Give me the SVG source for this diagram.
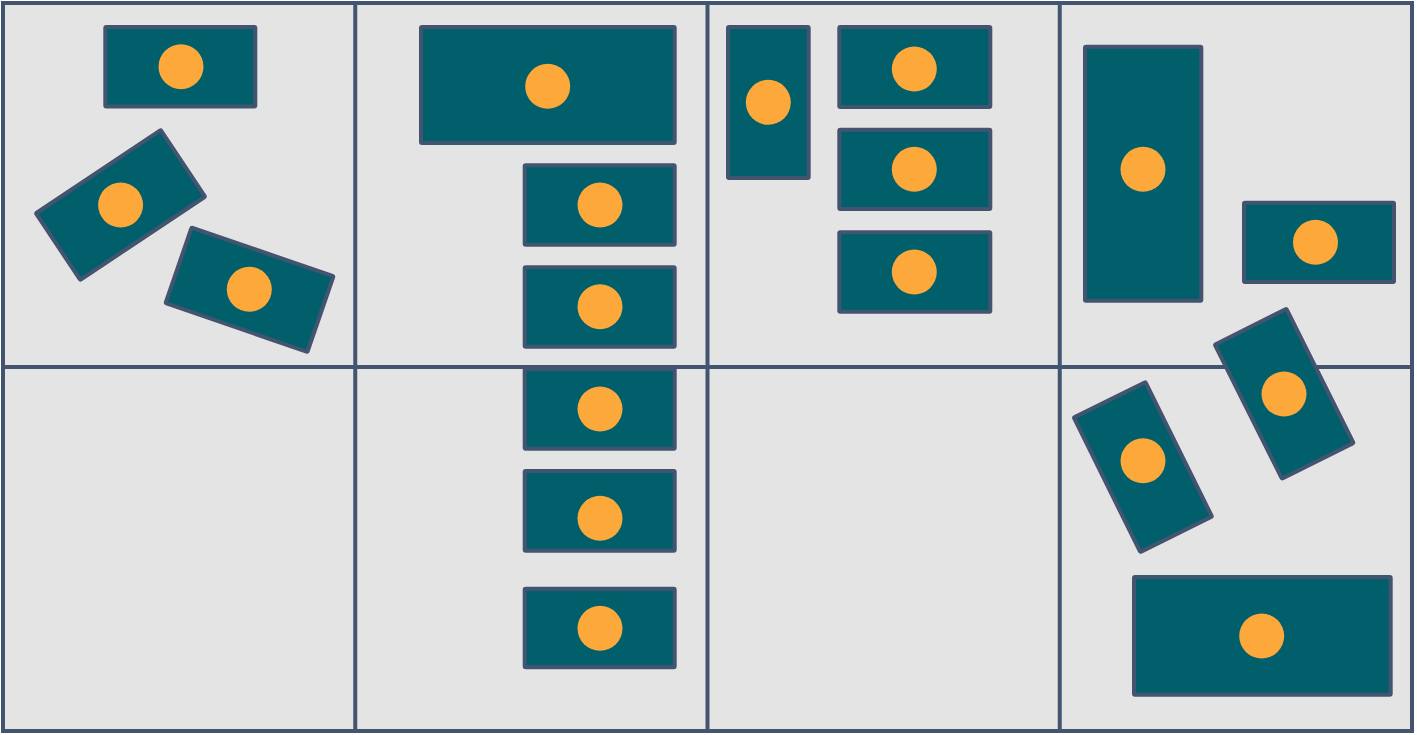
<svg xmlns="http://www.w3.org/2000/svg" width="1417" height="735" viewBox="0 0 1417 735">
<style>
.cell{fill:#e4e4e4;stroke:#435470;stroke-width:4}
.grid{stroke:#435470;stroke-width:4;fill:none}
.box{fill:#005f6b;stroke:#435470;stroke-width:4;stroke-linejoin:round}
.dot{fill:#fda83a}
</style>
<rect x="0" y="0" width="1417" height="735" fill="#ffffff"/>
<g id="grid">
<rect class="cell" x="3" y="3" width="1409" height="728"/>
<line class="grid" x1="355.25" y1="3" x2="355.25" y2="731"/>
<line class="grid" x1="707.5" y1="3" x2="707.5" y2="731"/>
<line class="grid" x1="1059.75" y1="3" x2="1059.75" y2="731"/>
<line class="grid" x1="3" y1="367" x2="1412" y2="367"/>
</g>
<!-- cell 1 -->
<g id="n1"><rect class="box" x="105.3" y="27" width="150" height="79.5" rx="1"/><circle class="dot" cx="181" cy="66.7" r="22.5"/></g>
<g id="n2"><rect class="box" x="45.5" y="165" width="150" height="80" rx="1" transform="rotate(-33.7 120.5 205)"/><circle class="dot" cx="120.6" cy="205" r="22.5"/></g>
<g id="n3"><rect class="box" x="174.5" y="249.7" width="150" height="80" rx="1" transform="rotate(19 249.5 289.7)"/><circle class="dot" cx="249.3" cy="289.3" r="22.5"/></g>
<!-- cell 2 -->
<g id="n4"><rect class="box" x="421" y="27" width="253.7" height="116" rx="1"/><circle class="dot" cx="547.7" cy="86.3" r="22.5"/></g>
<g id="n5"><rect class="box" x="524.7" y="165.3" width="150" height="79.4" rx="1"/><circle class="dot" cx="600" cy="205" r="22.5"/></g>
<g id="n6"><rect class="box" x="524.7" y="267.3" width="150" height="79.4" rx="1"/><circle class="dot" cx="600" cy="306.7" r="22.5"/></g>
<g id="n7"><rect class="box" x="524.7" y="369" width="150" height="79.7" rx="1"/><circle class="dot" cx="600" cy="409" r="22.5"/></g>
<g id="n8"><rect class="box" x="524.7" y="471" width="150" height="79.7" rx="1"/><circle class="dot" cx="600" cy="518.3" r="22.5"/></g>
<g id="n9"><rect class="box" x="524.7" y="588.7" width="150" height="78.6" rx="1"/><circle class="dot" cx="600" cy="628.3" r="22.5"/></g>
<!-- cell 3 -->
<g id="n10"><rect class="box" x="728" y="27" width="80.7" height="151" rx="1"/><circle class="dot" cx="768.3" cy="102.3" r="22.5"/></g>
<g id="n11"><rect class="box" x="839.3" y="27" width="151" height="80" rx="1"/><circle class="dot" cx="914.3" cy="69" r="22.5"/></g>
<g id="n12"><rect class="box" x="839.3" y="129.7" width="151" height="79.3" rx="1"/><circle class="dot" cx="914.3" cy="169.3" r="22.5"/></g>
<g id="n13"><rect class="box" x="839.3" y="232.3" width="151" height="79.4" rx="1"/><circle class="dot" cx="914.3" cy="272" r="22.5"/></g>
<!-- cell 4 -->
<g id="n14"><rect class="box" x="1085" y="46.7" width="116.3" height="254" rx="1"/><circle class="dot" cx="1143" cy="169.3" r="22.5"/></g>
<g id="n15"><rect class="box" x="1244" y="202.7" width="150" height="79.3" rx="1"/><circle class="dot" cx="1315.5" cy="242.3" r="22.5"/></g>
<g id="n16"><rect class="box" x="1209.2" y="353.8" width="150" height="80" rx="1" transform="rotate(63.4 1284.2 393.8)"/><circle class="dot" cx="1284" cy="394" r="22.5"/></g>
<g id="n17"><rect class="box" x="1067.9" y="427.1" width="150" height="80" rx="1" transform="rotate(63.7 1142.9 467.1)"/><circle class="dot" cx="1143" cy="460.8" r="22.5"/></g>
<g id="n18"><rect class="box" x="1134" y="577" width="256.7" height="117.7" rx="1"/><circle class="dot" cx="1261.7" cy="636" r="22.5"/></g>
</svg>
